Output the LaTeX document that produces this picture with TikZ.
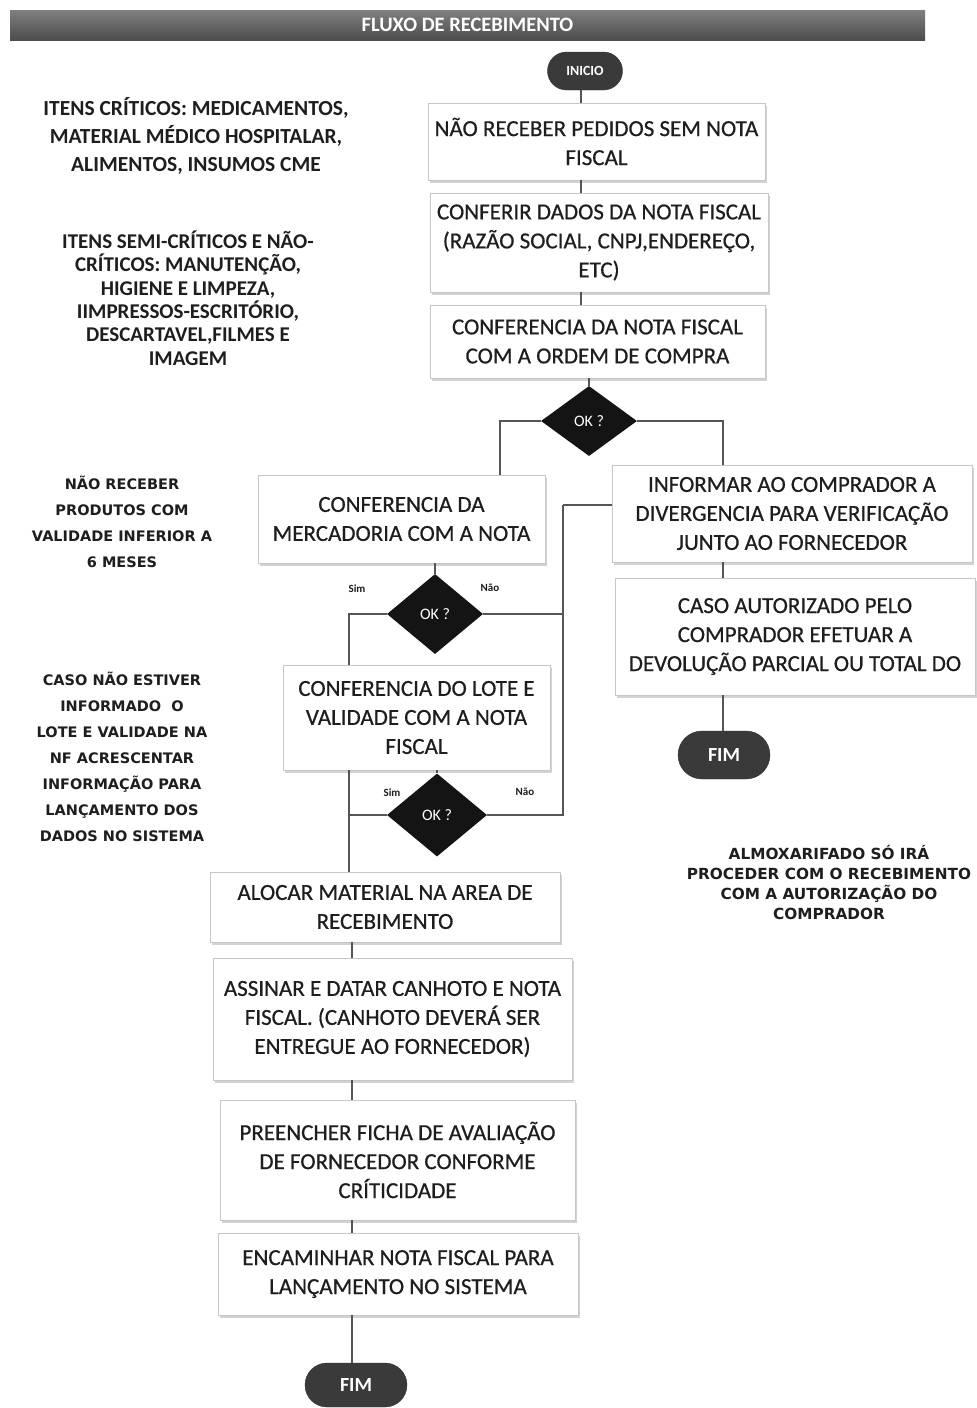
\documentclass[tikz,border=0pt]{standalone}
\usepackage{fontspec}
\setmainfont{Carlito}
\newfontfamily\widefont{DejaVu Sans}
\newfontfamily\boxfont{Carlito}[FakeBold=0.6]
\usetikzlibrary{shapes.geometric,shapes.misc,shadows,calc}
\definecolor{ink}{HTML}{1E1E1E}
\definecolor{wire}{HTML}{555555}
\definecolor{pillc}{HTML}{3A3A3A}
\begin{document}
\begin{tikzpicture}[x=1pt,y=-1pt,
  box/.style={draw=black!22, fill=white, line width=0.8pt, align=center, text=ink,
    font=\boxfont\fontsize{23}{29}\selectfont, inner sep=0pt,
    drop shadow={shadow xshift=1.5pt, shadow yshift=-2.5pt, opacity=0.35}},
  pill/.style={rounded rectangle, fill=pillc, draw=black!80, text=white, inner sep=0pt,
    font=\bfseries\fontsize{14}{16}\selectfont},
  dec/.style={diamond, fill=black!92, text=white, inner sep=0pt,
    font=\fontsize{16}{18}\selectfont},
  wirel/.style={draw=wire, line width=1.2pt},
  bignote/.style={align=center, text=ink, font=\bfseries\fontsize{21.5}{28}\selectfont},
  smallnote/.style={align=center, text=ink, font=\widefont\bfseries\fontsize{14.5}{26}\selectfont},
  yn/.style={text=ink, font=\bfseries\fontsize{11}{13}\selectfont}
]
\useasboundingbox (0,0) rectangle (977,1408);
\fill[white] (0,0) rectangle (977,1408);

% title bar
\node[minimum width=915pt, minimum height=30pt, top color=black!50, bottom color=black!70,
  inner sep=0pt, text=white, font=\bfseries\fontsize{20.5}{22}\selectfont] (title) at (467.5,25) {FLUXO DE RECEBIMENTO};

% start / end
\node[pill, minimum width=75pt, minimum height=38pt] (ini) at (585,71) {INICIO};
\node[pill, minimum width=92pt, minimum height=48pt, font=\bfseries\fontsize{20}{22}\selectfont] (fim2) at (724,755) {FIM};
\node[pill, minimum width=102pt, minimum height=44pt, font=\bfseries\fontsize{20}{22}\selectfont] (fim1) at (356,1385) {FIM};

% main boxes
\node[box, minimum width=337pt, minimum height=77pt] (b1) at (596.5,141.5) {NÃO RECEBER PEDIDOS SEM NOTA\\FISCAL};
\node[box, minimum width=338pt, minimum height=99pt] (b2) at (599,242.5) {CONFERIR DADOS DA NOTA FISCAL\\(RAZÃO SOCIAL, CNPJ,ENDEREÇO,\\ETC)};
\node[box, minimum width=335pt, minimum height=73pt] (b3) at (597.5,341.5) {CONFERENCIA DA NOTA FISCAL\\COM A ORDEM DE COMPRA};
\node[box, minimum width=287pt, minimum height=88pt] (b4) at (401.5,519) {CONFERENCIA DA\\MERCADORIA COM A NOTA};
\node[box, minimum width=360pt, minimum height=97pt] (b5) at (792,513.5) {INFORMAR AO COMPRADOR A\\DIVERGENCIA PARA VERIFICAÇÃO\\JUNTO AO FORNECEDOR};
\node[box, minimum width=360pt, minimum height=117pt] (b6) at (795,636.5) {CASO AUTORIZADO PELO\\COMPRADOR EFETUAR A\\DEVOLUÇÃO PARCIAL OU TOTAL DO};
\node[box, minimum width=267pt, minimum height=105pt] (b7) at (416.5,717.5) {CONFERENCIA DO LOTE E\\VALIDADE COM A NOTA\\FISCAL};
\node[box, minimum width=350pt, minimum height=70pt] (b8) at (385,907) {ALOCAR MATERIAL NA AREA DE\\RECEBIMENTO};
\node[box, minimum width=359pt, minimum height=122pt] (b9) at (392.5,1019) {ASSINAR E DATAR CANHOTO E NOTA\\FISCAL. (CANHOTO DEVERÁ SER\\ENTREGUE AO FORNECEDOR)};
\node[box, minimum width=355pt, minimum height=120pt] (b10) at (397.5,1160) {PREENCHER FICHA DE AVALIAÇÃO\\DE FORNECEDOR CONFORME\\CRÍTICIDADE};
\node[box, minimum width=360pt, minimum height=82pt] (b11) at (398,1274) {ENCAMINHAR NOTA FISCAL PARA\\LANÇAMENTO NO SISTEMA};

% decisions
\node[dec, minimum width=96pt, minimum height=70pt] (d1) at (589,421) {OK ?};
\node[dec, minimum width=96pt, minimum height=80pt] (d2) at (435,614) {OK ?};
\node[dec, minimum width=100pt, minimum height=83pt] (d3) at (437,815) {OK ?};

% yes / no labels
\node[yn] (s1) at (357,589) {Sim};
\node[yn] (n1) at (490,588) {Não};
\node[yn] (s2) at (392,793) {Sim};
\node[yn] (n2) at (525,792) {Não};

% notes
\node[bignote] (nt1) at (196,136) {ITENS CRÍTICOS: MEDICAMENTOS,\\MATERIAL MÉDICO HOSPITALAR,\\ALIMENTOS, INSUMOS CME};
\node[bignote, font=\bfseries\fontsize{21}{23.4}\selectfont] (nt2) at (188,298) {ITENS SEMI-CRÍTICOS E NÃO-\\CRÍTICOS: MANUTENÇÃO,\\HIGIENE E LIMPEZA,\\IIMPRESSOS-ESCRITÓRIO,\\DESCARTAVEL,FILMES E\\IMAGEM};
\node[smallnote] (nt3) at (122,522) {NÃO RECEBER\\PRODUTOS COM\\VALIDADE INFERIOR A\\6 MESES};
\node[smallnote] (nt4) at (122,757) {CASO NÃO ESTIVER\\INFORMADO\ \ O\\LOTE E VALIDADE NA\\NF ACRESCENTAR\\INFORMAÇÃO PARA\\LANÇAMENTO DOS\\DADOS NO SISTEMA};
\node[smallnote, font=\widefont\bfseries\fontsize{15.3}{20}\selectfont] (nt5) at (829,883) {ALMOXARIFADO SÓ IRÁ\\PROCEDER COM O RECEBIMENTO\\COM A AUTORIZAÇÃO DO\\COMPRADOR};

% junction coordinates
\coordinate (cm) at (581,0);
\coordinate (cl) at (500,0);
\coordinate (cr) at (723,0);
\coordinate (cv) at (563,505);
\coordinate (cs) at (349,0);
\coordinate (cb) at (352,0);

% connectors
\draw[wirel] (ini.south -| cm) -- (b1.north -| cm);
\draw[wirel] (b1.south -| cm) -- (b2.north -| cm);
\draw[wirel] (b2.south -| cm) -- (b3.north -| cm);
\draw[wirel] (b3.south -| d1) -- (d1.north);
\draw[wirel] (d1.west) -| (cl |- b4.north);
\draw[wirel] (d1.east) -| (cr |- b5.north);
\draw[wirel] (cr |- b5.south) -- (cr |- b6.north);
\draw[wirel] (cr |- b6.south) -- (fim2.north -| cr);
\draw[wirel] (b4.south -| d2) -- (d2.north);
\draw[wirel] (d2.west) -| (cs |- b7.north);
\draw[wirel] (d2.east) -| (cv);
\draw[wirel] (cv) -- (cv -| b5.west);
\draw[wirel] (d3.east) -| (cv);
\draw[wirel] (b7.south -| d3) -- (d3.north);
\draw[wirel] (cs |- b7.south) -- (cs |- b8.north);
\draw[wirel] (d3.west) -- (d3.west -| cs);
\draw[wirel] (b8.south -| cb) -- (b9.north -| cb);
\draw[wirel] (b9.south -| cb) -- (b10.north -| cb);
\draw[wirel] (b10.south -| cb) -- (b11.north -| cb);
\draw[wirel] (b11.south -| cb) -- (fim1.north -| cb);
\end{tikzpicture}
\end{document}
